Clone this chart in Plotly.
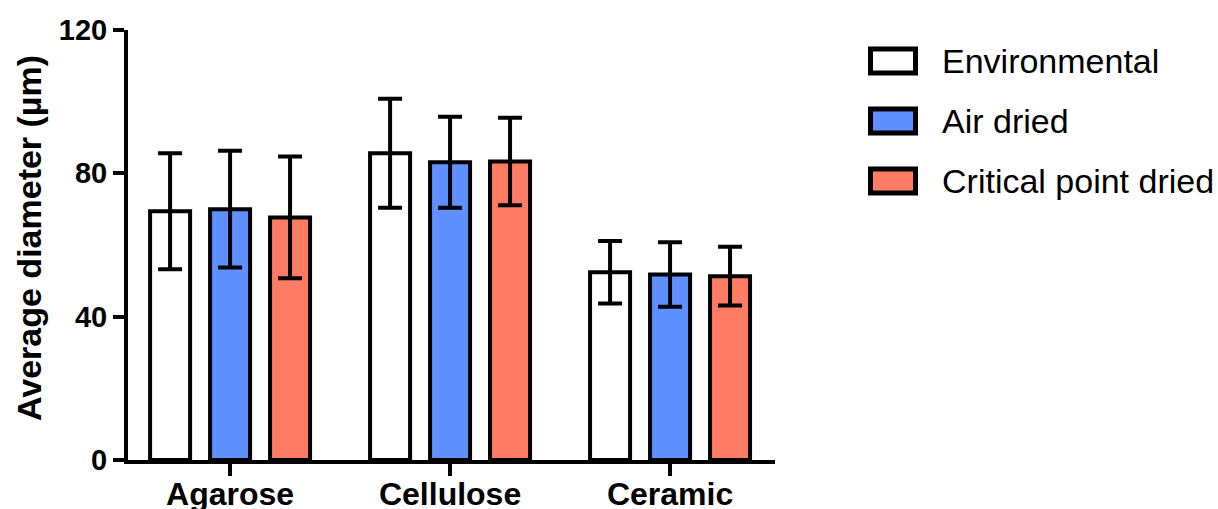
import plotly.graph_objects as go

categories = ["Agarose", "Cellulose", "Ceramic"]
series_names = ["Environmental", "Air dried", "Critical point dried"]
env_mean = [69.4, 85.6, 52.4]
env_err = [16.2, 15.2, 8.7]
air_mean = [70.0, 83.1, 51.8]
air_err = [16.3, 12.7, 9.0]
cpd_mean = [67.7, 83.3, 51.3]
cpd_err = [17.0, 12.2, 8.2]
colors = ["#FFFFFF", "#6090FF", "#FF7C64"]
y_ticks = [0, 40, 80, 120]
y_title = "Average diameter (µm)"

means = [env_mean, air_mean, cpd_mean]
errs = [env_err, air_err, cpd_err]

FONT = "Liberation Sans, Arial, sans-serif"
W, H = 1218, 509
ML, MR, MT, MB = 128, 443, 30, 49
PW, PH = W - ML - MR, H - MT - MB

fig = go.Figure()
for name, m, e, c in zip(series_names, means, errs, colors):
    fig.add_trace(go.Bar(
        name=name, x=categories, y=m,
        marker=dict(color=c, line=dict(color="black", width=4)),
        error_y=dict(type="data", array=e, visible=True, color="black",
                     thickness=4, width=12),
        showlegend=False,
    ))

def px2x(px):
    return (px - ML) / PW

def py2y(py):
    return 1 - (py - MT) / PH

shapes = []
annotations = []
row_centers = [61, 121, 181]
for name, c, yc in zip(series_names, colors, row_centers):
    shapes.append(dict(type="rect", xref="paper", yref="paper",
                       x0=px2x(870.5), x1=px2x(915.5),
                       y0=py2y(yc - 12), y1=py2y(yc + 12),
                       fillcolor=c, line=dict(color="black", width=5)))
    annotations.append(dict(xref="paper", yref="paper", x=px2x(940), y=py2y(yc),
                            text=name, showarrow=False, xanchor="left", yanchor="middle",
                            font=dict(family=FONT, size=34, color="black")))

annotations.append(dict(xref="paper", yref="paper", x=px2x(29), y=py2y(238),
                        text=y_title, textangle=-90, showarrow=False,
                        xanchor="center", yanchor="middle",
                        font=dict(family=FONT, size=34, color="black", weight="bold")))

fig.update_layout(
    width=W, height=H,
    margin=dict(l=ML, r=MR, t=MT, b=MB),
    paper_bgcolor="white", plot_bgcolor="white",
    barmode="group", bargap=0.182, bargroupgap=0.333,
    shapes=shapes, annotations=annotations,
    xaxis=dict(type="category", range=[-0.464, 2.477], automargin=False,
               showline=True, linecolor="black", linewidth=4,
               ticks="outside", ticklen=12, tickwidth=4, tickcolor="black",
               showgrid=False, zeroline=False, ticklabelstandoff=-9,
               tickfont=dict(family=FONT, size=32, color="black", weight="bold")),
    yaxis=dict(range=[0, 120], tickvals=y_ticks, automargin=False,
               showline=True, linecolor="black", linewidth=4,
               ticks="outside", ticklen=11, tickwidth=4, tickcolor="black",
               showgrid=False, zeroline=False,
               tickfont=dict(family=FONT, size=29, color="black", weight="bold")),
)

fig.write_html("out.html")
